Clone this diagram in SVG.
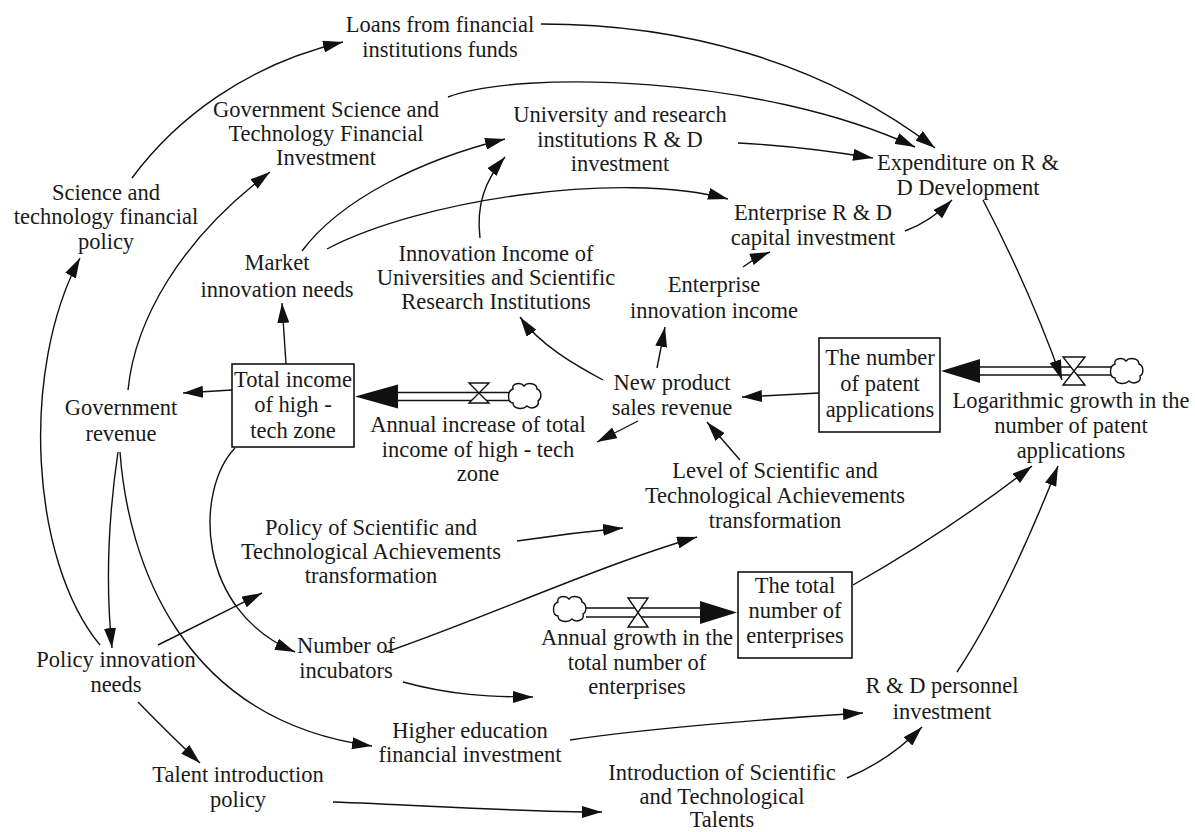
<svg xmlns="http://www.w3.org/2000/svg" width="1195" height="832" viewBox="0 0 1195 832">
  <style>
    .lbl { font-family: "Liberation Serif", "Times New Roman", serif; font-size: 22.5px; fill: #1a1a1a; text-anchor: middle; }
    .link { fill: none; stroke: #111; stroke-width: 1.4; marker-end: url(#arr); }
    .stock { fill: #fff; stroke: #111; stroke-width: 1.6; }
    .pipe { fill: none; stroke: #111; stroke-width: 1.4; }
    .head { fill: #111; stroke: none; }
    .valve { fill: #fff; stroke: #111; stroke-width: 1.4; }
    .cloud { fill: #fff; stroke: #111; stroke-width: 1.4; }
  </style>
  <defs>
    <marker id="arr" markerUnits="userSpaceOnUse" markerWidth="20" markerHeight="12" refX="20" refY="6" orient="auto">
      <path d="M0,0 L20,6 L0,12 Z" fill="#111"/>
    </marker>
    <path id="cloudShape" d="M-12,-8 C-14,-14 -4,-15 -1,-11 C2,-15 12,-14 12,-8 C17,-6 17,2 13,4 C15,10 6,13 2,9 C-2,13 -12,12 -12,6 C-18,5 -18,-6 -12,-8 Z"/>
  </defs>
  <rect width="1195" height="832" fill="#fff"/>

  <!-- causal links -->
  <g id="connectors">
    <path class="link" d="M132,178 C175,120 245,65 343,42"/>
    <path class="link" d="M541,24 C680,24 820,60 935,148"/>
    <path class="link" d="M448,97 C520,70 760,75 915,147"/>
    <path class="link" d="M128,390 C135,320 180,240 270,172"/>
    <path class="link" d="M100,645 C30,560 20,370 80,258"/>
    <path class="link" d="M118,452 C108,520 106,590 112,648"/>
    <path class="link" d="M120,452 C128,560 180,720 372,746"/>
    <path class="link" d="M235,448 C195,490 195,610 295,652"/>
    <path class="link" d="M232,390 L183,393"/>
    <path class="link" d="M286,364 L282,303"/>
    <path class="link" d="M302,251 C340,200 420,160 505,139"/>
    <path class="link" d="M327,249 C420,200 620,170 728,199"/>
    <path class="link" d="M480,238 C476,205 485,180 505,157"/>
    <path class="link" d="M738,143 Q800,146 873,158"/>
    <path class="link" d="M905,231 Q930,222 952,200"/>
    <path class="link" d="M983,200 Q1030,290 1062,380"/>
    <path class="link" d="M819,393 L742,397"/>
    <path class="link" d="M603,380 C575,365 540,345 520,317"/>
    <path class="link" d="M657,368 L665,327"/>
    <path class="link" d="M743,267 Q755,258 770,252"/>
    <path class="link" d="M638,421 L597,442"/>
    <path class="link" d="M740,460 L707,422"/>
    <path class="link" d="M517,541 Q570,533 623,528"/>
    <path class="link" d="M386,652 C480,620 600,565 697,537"/>
    <path class="link" d="M403,682 C450,695 490,697 533,697"/>
    <path class="link" d="M853,585 Q950,530 1032,466"/>
    <path class="link" d="M957,672 Q1005,600 1058,466"/>
    <path class="link" d="M570,740 C650,728 780,718 863,713"/>
    <path class="link" d="M847,778 Q890,760 922,727"/>
    <path class="link" d="M333,802 C420,805 520,812 602,812"/>
    <path class="link" d="M138,702 Q170,735 200,763"/>
    <path class="link" d="M158,645 L262,593"/>
  </g>

  <!-- flows (pipes, valves, clouds) -->
  <g id="flow-income">
    <path class="pipe" d="M395,392.5 H510 M395,400.5 H510"/>
    <path class="head" d="M355,396.5 L398,384.5 L398,408.5 Z"/>
    <path class="valve" d="M469,383 H489 L469,403 H489 Z"/>
    <use href="#cloudShape" class="cloud" x="525" y="397"/>
  </g>
  <g id="flow-patent">
    <path class="pipe" d="M978,367 H1112 M978,375 H1112"/>
    <path class="head" d="M941,371 L980,359 L980,383 Z"/>
    <path class="valve" d="M1063,357 H1085 L1063,385 H1085 Z"/>
    <use href="#cloudShape" class="cloud" x="1127" y="372"/>
  </g>
  <g id="flow-enterprise">
    <path class="pipe" d="M586,608 H702 M586,617 H702"/>
    <path class="head" d="M737,612.5 L700,601 L700,624 Z"/>
    <path class="valve" d="M628,598 H648 L628,627 H648 Z"/>
    <use href="#cloudShape" class="cloud" x="570" y="610"/>
  </g>

  <!-- variables -->
  <g id="loans"><text class="lbl"><tspan x="440" y="32">Loans from financial</tspan><tspan x="440" y="57">institutions funds</tspan></text></g>
  <g id="gov-st-investment"><text class="lbl"><tspan x="326" y="117">Government Science and</tspan><tspan x="326" y="141">Technology Financial</tspan><tspan x="326" y="165">Investment</tspan></text></g>
  <g id="univ-rd"><text class="lbl"><tspan x="620" y="122">University and research</tspan><tspan x="620" y="147">institutions R &amp; D</tspan><tspan x="620" y="171">investment</tspan></text></g>
  <g id="rd-expenditure"><text class="lbl"><tspan x="968" y="170">Expenditure on R &amp;</tspan><tspan x="968" y="195">D Development</tspan></text></g>
  <g id="enterprise-capital"><text class="lbl"><tspan x="813" y="220">Enterprise R &amp; D</tspan><tspan x="813" y="245">capital investment</tspan></text></g>
  <g id="st-policy"><text class="lbl"><tspan x="106" y="200">Science and</tspan><tspan x="106" y="224">technology financial</tspan><tspan x="106" y="249">policy</tspan></text></g>
  <g id="market-needs"><text class="lbl"><tspan x="277" y="270">Market</tspan><tspan x="277" y="297">innovation needs</tspan></text></g>
  <g id="univ-income"><text class="lbl"><tspan x="496" y="261">Innovation Income of</tspan><tspan x="496" y="285">Universities and Scientific</tspan><tspan x="496" y="309">Research Institutions</tspan></text></g>
  <g id="enterprise-income"><text class="lbl"><tspan x="714" y="292">Enterprise</tspan><tspan x="714" y="318">innovation income</tspan></text></g>
  <g id="total-income">
    <rect class="stock" x="232" y="364" width="122" height="83"/>
    <text class="lbl"><tspan x="293" y="387">Total income</tspan><tspan x="293" y="412">of high -</tspan><tspan x="293" y="438">tech zone</tspan></text>
  </g>
  <g id="gov-revenue"><text class="lbl"><tspan x="121" y="415">Government</tspan><tspan x="121" y="441">revenue</tspan></text></g>
  <g id="annual-increase"><text class="lbl"><tspan x="478" y="432">Annual increase of total</tspan><tspan x="478" y="457">income of high - tech</tspan><tspan x="478" y="481">zone</tspan></text></g>
  <g id="new-product"><text class="lbl"><tspan x="672" y="390">New product</tspan><tspan x="672" y="415">sales revenue</tspan></text></g>
  <g id="patent-applications">
    <rect class="stock" x="819" y="338" width="121" height="94"/>
    <text class="lbl"><tspan x="880" y="365">The number</tspan><tspan x="880" y="391">of patent</tspan><tspan x="880" y="417">applications</tspan></text>
  </g>
  <g id="patent-growth"><text class="lbl"><tspan x="1071" y="408">Logarithmic growth in the</tspan><tspan x="1071" y="433">number of patent</tspan><tspan x="1071" y="458">applications</tspan></text></g>
  <g id="achievement-level"><text class="lbl"><tspan x="775" y="478">Level of Scientific and</tspan><tspan x="775" y="503">Technological Achievements</tspan><tspan x="775" y="528">transformation</tspan></text></g>
  <g id="achievement-policy"><text class="lbl"><tspan x="371" y="535">Policy of Scientific and</tspan><tspan x="371" y="559">Technological Achievements</tspan><tspan x="371" y="583">transformation</tspan></text></g>
  <g id="total-enterprises">
    <rect class="stock" x="738" y="572" width="114" height="86"/>
    <text class="lbl"><tspan x="795" y="593">The total</tspan><tspan x="795" y="618">number of</tspan><tspan x="795" y="643">enterprises</tspan></text>
  </g>
  <g id="enterprise-growth"><text class="lbl"><tspan x="637" y="645">Annual growth in the</tspan><tspan x="637" y="670">total number of</tspan><tspan x="637" y="694">enterprises</tspan></text></g>
  <g id="incubators"><text class="lbl"><tspan x="346" y="653">Number of</tspan><tspan x="346" y="678">incubators</tspan></text></g>
  <g id="policy-needs"><text class="lbl"><tspan x="116" y="667">Policy innovation</tspan><tspan x="116" y="692">needs</tspan></text></g>
  <g id="higher-education"><text class="lbl"><tspan x="470" y="738">Higher education</tspan><tspan x="470" y="762">financial investment</tspan></text></g>
  <g id="rd-personnel"><text class="lbl"><tspan x="942" y="693">R &amp; D personnel</tspan><tspan x="942" y="719">investment</tspan></text></g>
  <g id="talent-policy"><text class="lbl"><tspan x="238" y="782">Talent introduction</tspan><tspan x="238" y="807">policy</tspan></text></g>
  <g id="talent-introduction"><text class="lbl"><tspan x="722" y="780">Introduction of Scientific</tspan><tspan x="722" y="804">and Technological</tspan><tspan x="722" y="827">Talents</tspan></text></g>
</svg>
